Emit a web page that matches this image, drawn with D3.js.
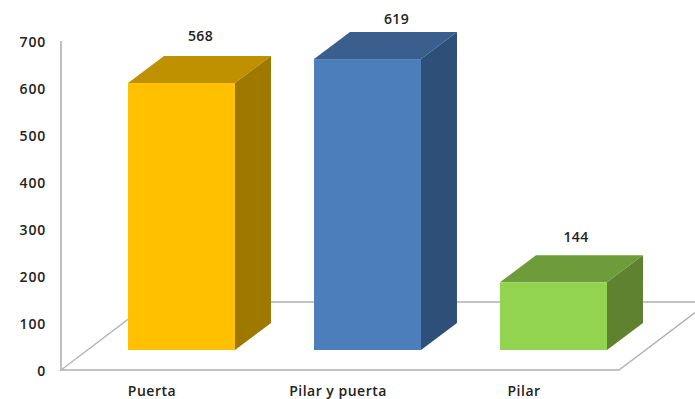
<!DOCTYPE html>
<html>
<head>
<meta charset="utf-8">
<script src="https://cdn.jsdelivr.net/npm/d3@7"></script>
<style>
  html, body { margin: 0; padding: 0; background: #fff; overflow: hidden; }
  svg { display: block; }
  text { font-family: "Open Sans", sans-serif; font-weight: 600; fill: #222; }
</style>
</head>
<body>
<div id="chart"></div>
<script>
const categories = ["Puerta", "Pilar y puerta", "Pilar"];
const values = [568, 619, 144];
const yTicks = [0, 100, 200, 300, 400, 500, 600, 700];

const fronts = ["#FFC000", "#4C7EBB", "#92D34F"];
const tops = ["#BF9000", "#3A5F8E", "#6F9C3B"];
const sides = ["#9F7800", "#2E5078", "#5E8230"];

const width = 695;
const height = 399;
const gridColor = "#b0b0b0";

// oblique offsets of the 3d box
const floorDx = 90, floorDy = -68;   // floor, front edge to back edge
const barDx = 36, barDy = -27;       // depth of a bar
const setDx = 27.5, setDy = -20;     // how far bars stand in from the front edge

// the data labels were placed by hand in the original, so they don't sit evenly
const labelNudgeX = [19, 29, 22.5];
const labelNudgeY = [-15, -8, -13];

const svg = d3.select("#chart").append("svg")
    .attr("width", width)
    .attr("height", height);

const x = d3.scaleBand()
    .domain(categories)
    .range([61, 619])
    .paddingInner(0.425)
    .paddingOuter(0.2125);

const y = d3.scaleLinear()
    .domain([0, 700])
    .range([370, 41]);

const line = d3.line();

// floor
const x0 = x.range()[0], x1 = x.range()[1], y0 = y(0);
svg.append("path")
    .attr("d", line([[x0, y0], [x1, y0], [x1 + floorDx, y0 + floorDy], [x0 + floorDx, y0 + floorDy]]) + "Z")
    .attr("fill", "#fff")
    .attr("stroke", gridColor)
    .attr("stroke-width", 1.3);

// vertical wall line
svg.append("path")
    .attr("d", line([[x0, y(700)], [x0, y0]]))
    .attr("stroke", gridColor)
    .attr("stroke-width", 1.6)
    .attr("fill", "none");

// bars
const bars = svg.append("g").selectAll("g")
    .data(categories)
    .join("g")
    .attr("transform", `translate(${setDx},${setDy})`);

const front = (c, i) => ({
    l: x(c),
    r: x(c) + x.bandwidth(),
    t: y(values[i]),
    b: y(0)
});

bars.append("path")
    .attr("d", (c, i) => {
        const f = front(c, i);
        return line([[f.l, f.t], [f.r, f.t], [f.r + barDx, f.t + barDy], [f.l + barDx, f.t + barDy]]) + "Z";
    })
    .attr("fill", (c, i) => tops[i]);

bars.append("path")
    .attr("d", (c, i) => {
        const f = front(c, i);
        return line([[f.r, f.t], [f.r + barDx, f.t + barDy], [f.r + barDx, f.b + barDy], [f.r, f.b]]) + "Z";
    })
    .attr("fill", (c, i) => sides[i]);

bars.append("rect")
    .attr("x", c => x(c))
    .attr("y", (c, i) => y(values[i]))
    .attr("width", x.bandwidth())
    .attr("height", (c, i) => y(0) - y(values[i]))
    .attr("fill", (c, i) => fronts[i]);

// data labels
bars.append("text")
    .attr("x", (c, i) => x(c) + x.bandwidth() / 2 + labelNudgeX[i])
    .attr("y", (c, i) => y(values[i]) + barDy + labelNudgeY[i])
    .attr("text-anchor", "middle")
    .attr("font-size", 14)
    .attr("letter-spacing", 0.4)
    .text((c, i) => values[i]);

// axes
const yAxis = svg.append("g")
    .attr("transform", `translate(${x0},1.5)`)
    .call(d3.axisLeft(y).tickValues(yTicks).tickSize(0).tickPadding(15));
yAxis.select(".domain").remove();
yAxis.selectAll("text")
    .attr("font-size", 14)
    .attr("letter-spacing", 0.8);

const xAxis = svg.append("g")
    .attr("transform", `translate(-2,${y0})`)
    .call(d3.axisBottom(x).tickSize(0).tickPadding(16));
xAxis.select(".domain").remove();
xAxis.selectAll("text")
    .attr("font-size", 14)
    .attr("letter-spacing", 0.5);
</script>
</body>
</html>
